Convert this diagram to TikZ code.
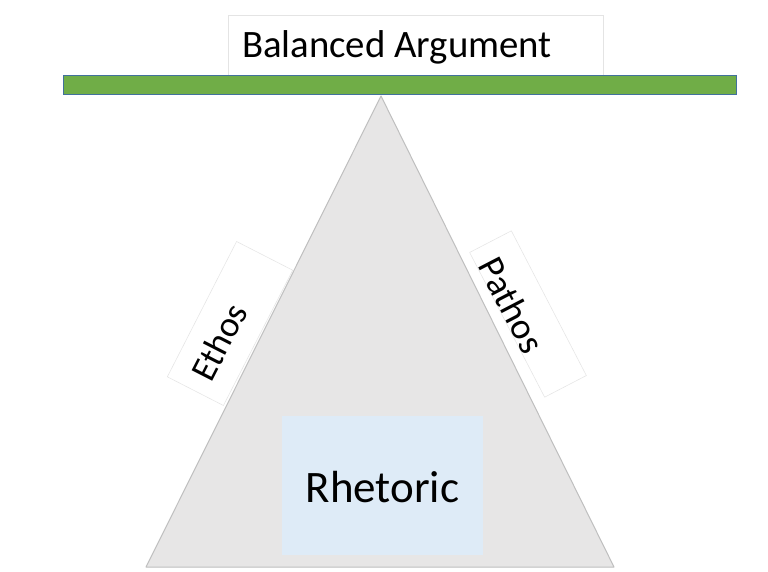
\documentclass[tikz,border=0pt]{standalone}
\usepackage{fontspec}
\setmainfont{Carlito}
\definecolor{barfill}{HTML}{70AD47}
\definecolor{barline}{HTML}{41719C}
\definecolor{trifill}{HTML}{E7E6E6}
\definecolor{triline}{HTML}{BFBFBF}
\definecolor{rhfill}{HTML}{DEEBF7}
\definecolor{faint}{HTML}{E4E4E4}
\begin{document}
\begin{tikzpicture}[x=1pt,y=-1pt,
  labelbox/.style={draw=faint, line width=0.5pt, fill=white, inner sep=0pt, outer sep=0pt},
  lbl/.style={inner sep=0pt, outer sep=0pt, text=black},
  barbox/.style={draw=barline, fill=barfill, line width=1pt, inner sep=0pt, outer sep=0pt},
  coreBox/.style={fill=rhfill, inner sep=0pt, outer sep=0pt}]
\useasboundingbox (0,0) rectangle (768,572);
\fill[white] (0,0) rectangle (768,572);
% side label boxes
\node[labelbox, rotate=62.9, minimum width=152pt, minimum height=63pt] (ethosbox) at (230,323.5) {};
\node[labelbox, rotate=-62.6, minimum width=163pt, minimum height=47pt] (pathosbox) at (528,314) {};
% triangle (fulcrum)
\coordinate (apex) at (381,96);
\coordinate (bl) at (146,567);
\coordinate (br) at (614,567);
\draw[triline, fill=trifill, line width=1pt, line join=round] (apex) -- (br) -- (bl) -- cycle;
% labels
\node[lbl, rotate=62.9, font=\fontsize{36}{40}\selectfont] (ethos) at (219,342) {Ethos};
\node[lbl, rotate=-62.6, font=\fontsize{37}{40}\selectfont] (pathos) at (512,305) {Pathos};
% rhetoric box
\node[coreBox, minimum width=201pt, minimum height=139pt] (rhbox) at (382.5,485.5) {};
\node[lbl, anchor=base, font=\fontsize{45}{50}\selectfont] (rhetoric) at (382.5,502) {Rhetoric};
% title
\node[labelbox, minimum width=375pt, minimum height=61pt] (titlebox) at (415.5,45.5) {};
\node[lbl, anchor=base west, font=\fontsize{38.8}{44}\selectfont] (title) at (242,58) {Balanced Argument};
% balance bar
\node[barbox, minimum width=673pt, minimum height=19pt] (bar) at (399.5,85.5) {};
\end{tikzpicture}
\end{document}
